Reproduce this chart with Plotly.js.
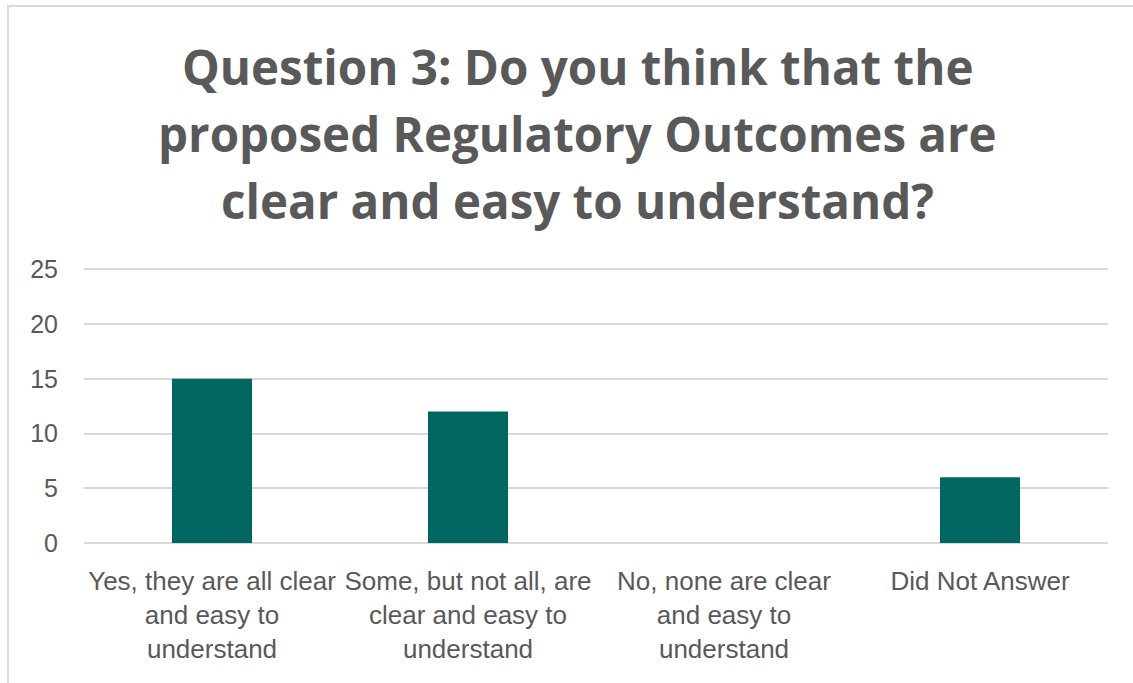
<!DOCTYPE html>
<html>
<head>
<meta charset="utf-8">
<script src="https://cdn.plot.ly/plotly-3.0.1.min.js"></script>
<style>
  html, body { margin: 0; padding: 0; background: #ffffff; overflow: hidden; }
  #chart { width: 1133px; height: 683px; position: relative; }
  #frame { position: absolute; left: 7px; top: 5px; width: 2000px; height: 2000px;
           border: 2px solid #d9d9d9; pointer-events: none; box-sizing: border-box; }
</style>
</head>
<body>
<div id="chart"></div>
<div id="frame"></div>
<script>
const categories = ["yes", "some", "none", "noanswer"];
const categoryLabels = [
  "Yes, they are all clear<br>and easy to<br>understand",
  "Some, but not all, are<br>clear and easy to<br>understand",
  "No, none are clear<br>and easy to<br>understand",
  "Did Not Answer"
];
const counts = [15, 12, 0, 6];
const yTicks = [0, 5, 10, 15, 20, 25];
const titleLines = [
  "Question 3: Do you think that the",
  "proposed Regulatory Outcomes are",
  "clear and easy to understand?"
];

const textColor = "#595959";
const titleFont = {family: "Open Sans, Noto Sans, sans-serif", size: 47.5, color: textColor, weight: 700};
const titleShifts = [200, 133, 66];

const annotations = titleLines.map((t, i) => ({
  text: "<b>" + t + "</b>",
  xref: "paper", yref: "paper", x: 0.482, y: 1,
  xanchor: "center", yanchor: "middle",
  yshift: titleShifts[i],
  showarrow: false,
  font: titleFont
}));

const trace = {
  type: "bar",
  x: categories,
  y: counts,
  marker: {color: "#026661", line: {width: 0}},
  hoverinfo: "x+y"
};

const layout = {
  width: 1133, height: 683,
  margin: {l: 84, r: 25, t: 266, b: 140, pad: 0},
  paper_bgcolor: "#ffffff",
  plot_bgcolor: "#ffffff",
  bargap: 0.6875,
  showlegend: false,
  font: {family: "Liberation Sans, Arial, sans-serif", size: 25, color: textColor},
  xaxis: {
    type: "category",
    tickmode: "array",
    tickvals: categories,
    ticktext: categoryLabels,
    showgrid: false,
    showline: false,
    ticks: "",
    tickfont: {family: "Liberation Sans, Arial, sans-serif", size: 26, color: textColor},
    ticklabelstandoff: 20
  },
  yaxis: {
    range: [0, 25.3],
    tickmode: "array",
    tickvals: yTicks,
    ticktext: yTicks.map(String),
    showgrid: true,
    gridcolor: "#d9d9d9",
    gridwidth: 2,
    zeroline: true,
    zerolinecolor: "#d9d9d9",
    zerolinewidth: 2,
    showline: false,
    ticks: "",
    tickfont: {family: "Liberation Sans, Arial, sans-serif", size: 25, color: textColor},
    ticklabelstandoff: 25
  },
  annotations: annotations
};

Plotly.newPlot("chart", [trace], layout, {displayModeBar: false});
</script>
</body>
</html>
